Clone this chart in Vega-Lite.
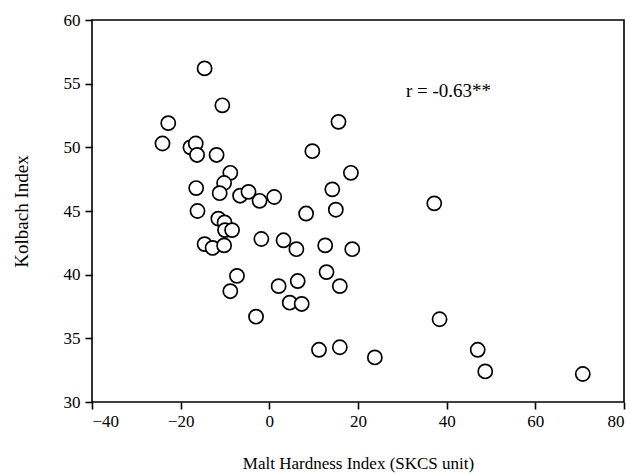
{
  "$schema": "https://vega.github.io/schema/vega-lite/v6.json",
  "width": 532,
  "height": 382,
  "autosize": {"type": "none"},
  "padding": {"left": 92, "top": 20, "right": 6, "bottom": 73},
  "background": "white",
  "config": {
    "font": "Liberation Serif",
    "view": {"stroke": "black", "strokeWidth": 1.6},
    "axis": {
      "grid": false,
      "domain": false,
      "tickColor": "black",
      "tickWidth": 1.6,
      "tickSize": 7,
      "labelColor": "black",
      "labelFont": "Liberation Serif",
      "labelFontSize": 17,
      "titleFont": "Liberation Serif",
      "titleFontSize": 17,
      "titleFontWeight": "normal",
      "titleColor": "black"
    }
  },
  "layer": [
    {
      "data": {
        "values": [
          {"x": -14.6, "y": 56.2},
          {"x": -10.6, "y": 53.3},
          {"x": -22.8, "y": 51.9},
          {"x": -24.1, "y": 50.3},
          {"x": -17.8, "y": 50.0},
          {"x": -16.6, "y": 50.3},
          {"x": -16.3, "y": 49.4},
          {"x": -11.9, "y": 49.4},
          {"x": 15.6, "y": 52.0},
          {"x": 9.7, "y": 49.7},
          {"x": 18.4, "y": 48.0},
          {"x": -8.8, "y": 48.0},
          {"x": -10.2, "y": 47.2},
          {"x": -16.5, "y": 46.8},
          {"x": -11.2, "y": 46.4},
          {"x": -6.6, "y": 46.2},
          {"x": -4.7, "y": 46.5},
          {"x": -2.2, "y": 45.8},
          {"x": 1.1, "y": 46.1},
          {"x": 14.2, "y": 46.7},
          {"x": 15.0, "y": 45.1},
          {"x": 8.3, "y": 44.8},
          {"x": 37.2, "y": 45.6},
          {"x": -16.2, "y": 45.0},
          {"x": -11.5, "y": 44.4},
          {"x": -10.1, "y": 44.1},
          {"x": -10.0, "y": 43.5},
          {"x": -8.4, "y": 43.5},
          {"x": -14.6, "y": 42.4},
          {"x": -12.8, "y": 42.1},
          {"x": -10.2, "y": 42.3},
          {"x": -1.8, "y": 42.8},
          {"x": 3.2, "y": 42.7},
          {"x": 6.1, "y": 42.0},
          {"x": 12.6, "y": 42.3},
          {"x": 18.7, "y": 42.0},
          {"x": -7.3, "y": 39.9},
          {"x": -8.8, "y": 38.7},
          {"x": 12.9, "y": 40.2},
          {"x": 6.4, "y": 39.5},
          {"x": 2.1, "y": 39.1},
          {"x": 15.9, "y": 39.1},
          {"x": 4.6, "y": 37.8},
          {"x": 7.3, "y": 37.7},
          {"x": -3.0, "y": 36.7},
          {"x": 38.4, "y": 36.5},
          {"x": 11.2, "y": 34.1},
          {"x": 15.9, "y": 34.3},
          {"x": 23.8, "y": 33.5},
          {"x": 47.0, "y": 34.1},
          {"x": 48.7, "y": 32.4},
          {"x": 70.7, "y": 32.2}
        ]
      },
      "mark": {"type": "point", "shape": "circle", "filled": false, "fill": "white", "fillOpacity": 1, "stroke": "black", "strokeWidth": 1.7, "opacity": 1, "size": 200},
      "encoding": {
        "x": {
          "field": "x", "type": "quantitative",
          "scale": {"domain": [-40, 80], "nice": false, "zero": false},
          "axis": {"values": [-40, -20, 0, 20, 40, 60, 80], "title": "Malt Hardness Index (SKCS unit)", "labelPadding": 4, "titlePadding": 26}
        },
        "y": {
          "field": "y", "type": "quantitative",
          "scale": {"domain": [30, 60], "nice": false, "zero": false},
          "axis": {"values": [30, 35, 40, 45, 50, 55, 60], "title": "Kolbach Index", "titleFontSize": 19, "labelPadding": 5, "titlePadding": 32}
        }
      }
    },
    {
      "data": {"values": [{"x": 30.8, "y": 54.4, "label": "r = -0.63**"}]},
      "mark": {"type": "text", "align": "left", "baseline": "middle", "font": "Liberation Serif", "fontSize": 19, "color": "black"},
      "encoding": {
        "x": {"field": "x", "type": "quantitative"},
        "y": {"field": "y", "type": "quantitative"},
        "text": {"field": "label"}
      }
    }
  ]
}
